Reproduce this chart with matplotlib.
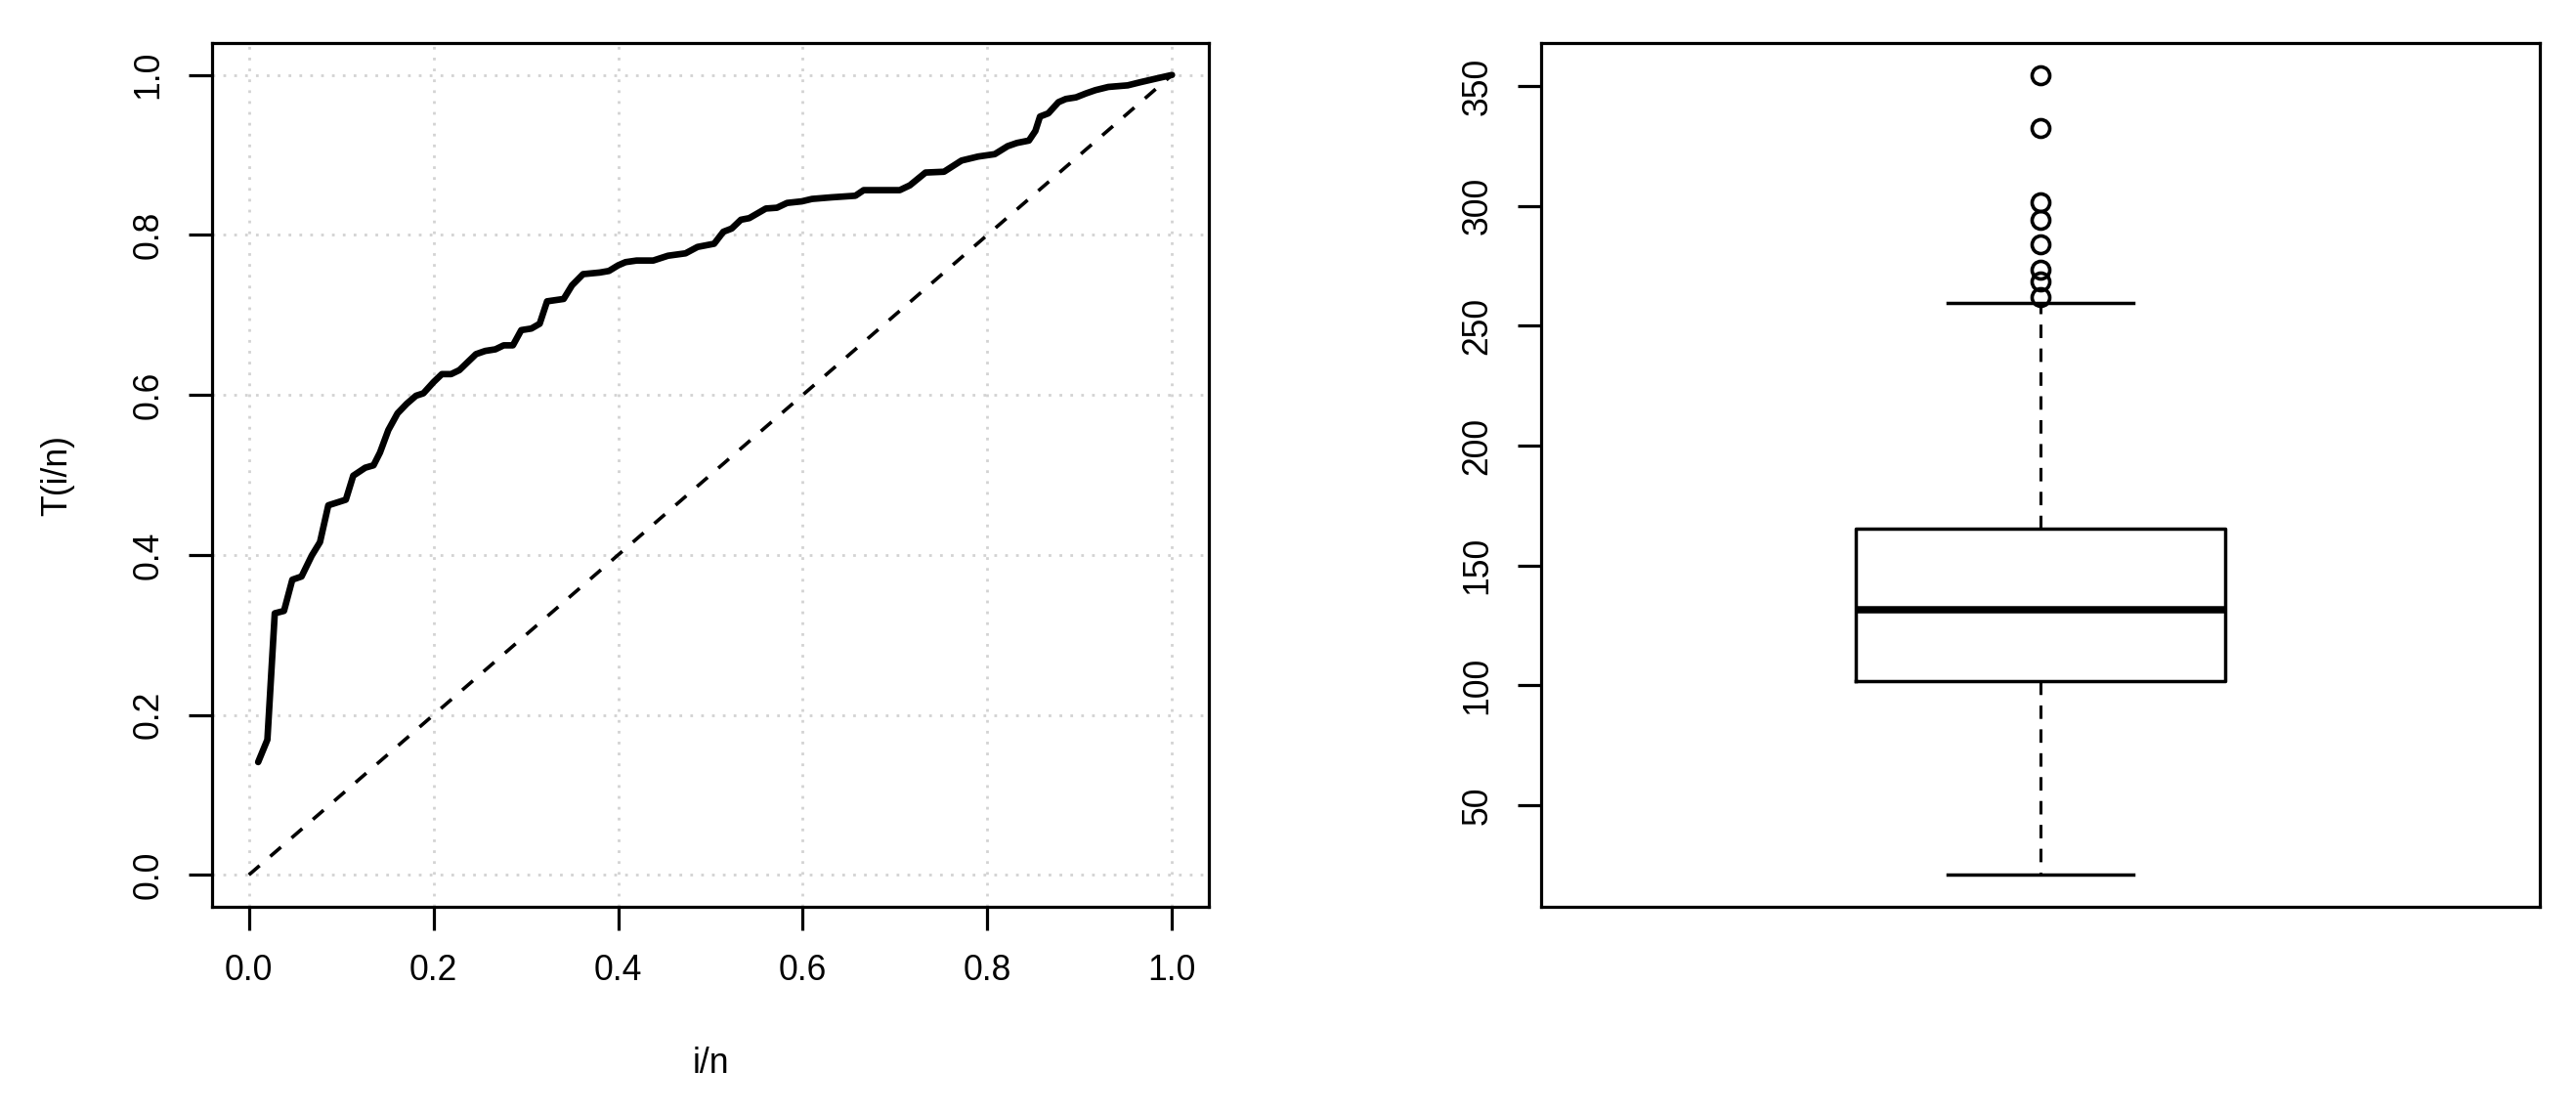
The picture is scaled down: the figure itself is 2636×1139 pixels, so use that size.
# TTT plot and boxplot side by side


# 1 Packages
#-----------
import matplotlib
matplotlib.use('Agg')
import matplotlib.pyplot as plt


# 2 Data
#---------------------------

# scaled total time on test curve, points (i/n, T(i/n))
ttt_x = [0.010, 0.020, 0.028, 0.038, 0.047, 0.057, 0.068, 0.077, 0.086, 0.105,
         0.113, 0.126, 0.135, 0.142, 0.151, 0.161, 0.171, 0.181, 0.189, 0.200,
         0.209, 0.219, 0.228, 0.246, 0.256, 0.267, 0.276, 0.286, 0.295, 0.306,
         0.315, 0.323, 0.341, 0.350, 0.362, 0.380, 0.390, 0.400, 0.408, 0.420,
         0.438, 0.454, 0.473, 0.486, 0.504, 0.514, 0.523, 0.533, 0.542, 0.560,
         0.572, 0.583, 0.599, 0.610, 0.631, 0.657, 0.666, 0.705, 0.716, 0.733,
         0.753, 0.772, 0.790, 0.808, 0.822, 0.832, 0.845, 0.852, 0.857, 0.866,
         0.877, 0.885, 0.896, 0.907, 0.917, 0.931, 0.952, 0.966, 0.981, 1.000]
ttt_y = [0.141, 0.169, 0.327, 0.330, 0.369, 0.373, 0.399, 0.416, 0.462, 0.469,
         0.499, 0.509, 0.512, 0.528, 0.556, 0.577, 0.589, 0.599, 0.602, 0.616,
         0.626, 0.626, 0.631, 0.651, 0.655, 0.657, 0.662, 0.662, 0.681, 0.683,
         0.689, 0.717, 0.720, 0.737, 0.751, 0.753, 0.755, 0.762, 0.766, 0.768,
         0.768, 0.774, 0.777, 0.785, 0.789, 0.804, 0.808, 0.819, 0.821, 0.833,
         0.834, 0.840, 0.842, 0.845, 0.847, 0.849, 0.856, 0.856, 0.862, 0.878,
         0.879, 0.893, 0.898, 0.901, 0.911, 0.915, 0.918, 0.930, 0.948, 0.952,
         0.966, 0.970, 0.972, 0.977, 0.981, 0.985, 0.987, 0.991, 0.995, 1.000]

# reference diagonal
diag_x = [0.0, 1.0]
diag_y = [0.0, 1.0]

ttt_ticks = [0.0, 0.2, 0.4, 0.6, 0.8, 1.0]
ttt_ticklabels = ['0.0', '0.2', '0.4', '0.6', '0.8', '1.0']

# boxplot summary
box_q1 = 101.7
box_median = 131.7
box_q3 = 165.5
whisker_low = 20.9
whisker_high = 259.5
outliers = [262.1, 268.7, 273.4, 283.9, 294.4, 301.5, 332.7, 354.7]
box_ticks = [50, 100, 150, 200, 250, 300, 350]


# 3 Figure
#---------
plt.rcParams['font.family'] = ['Liberation Sans', 'DejaVu Sans']
plt.rcParams['font.size'] = 12.8

fig = plt.figure(figsize=(13.18, 5.695), dpi=200)
axL = fig.add_axes([0.0823, 0.1852, 0.3870, 0.7762])
axR = fig.add_axes([0.5983, 0.1852, 0.3877, 0.7762])

gridcol = '#d3d3d3'

def r_style(ax):
  for sp in ax.spines.values():
    sp.set_linewidth(1.15)
  ax.tick_params(direction='out', length=8.6, width=1.15, pad=8.5, colors='black')
  ax.tick_params(axis='y', labelrotation=90)
  for lbl in ax.get_yticklabels():
    lbl.set_va('center')


# 4 Left: TTT plot
#-----------------
axL.set_xlim(-0.04, 1.04)
axL.set_ylim(-0.04, 1.04)
axL.set_xticks(ttt_ticks)
axL.set_xticklabels(ttt_ticklabels)
axL.set_yticks(ttt_ticks)
axL.set_yticklabels(ttt_ticklabels)
for t in ttt_ticks:
  axL.axvline(t, color=gridcol, lw=1.0, ls=(0, (1, 3)), zorder=0)
  axL.axhline(t, color=gridcol, lw=1.0, ls=(0, (1, 3)), zorder=0)

axL.plot(diag_x, diag_y, color='black', lw=1.3, ls=(0, (4, 4)), zorder=2)
axL.plot(ttt_x, ttt_y, color='black', lw=2.4, solid_joinstyle='round',
         solid_capstyle='round', zorder=3)

axL.set_xlabel('i/n')
axL.set_ylabel('T(i/n)')
axL.xaxis.label.set_va('center')
axL.yaxis.label.set_va('center')
axL.xaxis.set_label_coords(0.5, -0.181)
axL.yaxis.set_label_coords(-0.155, 0.5)
r_style(axL)


# 5 Right: boxplot
#-----------------
stats = [dict(med=box_median, q1=box_q1, q3=box_q3,
              whislo=whisker_low, whishi=whisker_high, fliers=outliers)]
axR.bxp(stats, positions=[1], widths=0.4, showfliers=True,
        boxprops=dict(color='black', lw=1.25),
        medianprops=dict(color='black', lw=2.7, solid_capstyle='butt'),
        whiskerprops=dict(color='black', lw=1.1, ls=(0, (4.5, 3.5))),
        capprops=dict(color='black', lw=1.25),
        flierprops=dict(marker='o', markersize=6.5, markerfacecolor='none',
                        markeredgecolor='black', markeredgewidth=1.3),
        capwidths=0.2)
axR.set_xlim(0.46, 1.54)
axR.set_ylim(7.55, 368.05)
axR.set_xticks([])
axR.set_yticks(box_ticks)
axR.set_yticklabels([str(v) for v in box_ticks])
r_style(axR)

fig.savefig('out.png', dpi=200)
